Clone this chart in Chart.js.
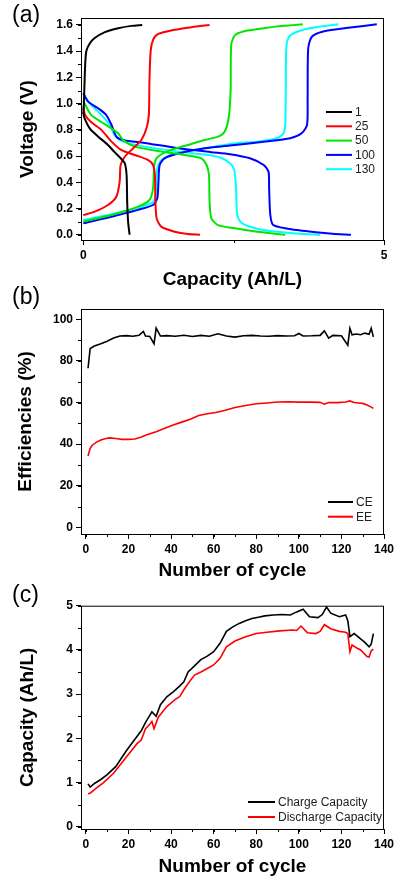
<!DOCTYPE html>
<html>
<head>
<meta charset="utf-8">
<script src="https://cdn.jsdelivr.net/npm/chart.js@4.4.0/dist/chart.umd.min.js"></script>
<style>
  body { margin: 0; background: #fff; width: 395px; height: 881px; overflow: hidden; }
  .panel { position: absolute; left: 0; }
  canvas { display: block; }
</style>
</head>
<body>
<div class="panel" style="top:0"><canvas id="chartA" width="395" height="300"></canvas></div>
<div class="panel" style="top:280px"><canvas id="chartB" width="395" height="310"></canvas></div>
<div class="panel" style="top:575px"><canvas id="chartC" width="395" height="306"></canvas></div>
<script>
// (a) voltage profiles, capacity (Ah/L) vs voltage (V)
const c1ChargeCap = [0.00, 0.01, 0.02, 0.03, 0.05, 0.11, 0.19, 0.36, 0.58, 0.80, 0.98];
const c1ChargeV = [0.92, 1.00, 1.15, 1.28, 1.40, 1.46, 1.50, 1.545, 1.575, 1.593, 1.60];
const c1DisCap = [0.00, 0.02, 0.11, 0.245, 0.41, 0.52, 0.63, 0.69, 0.72, 0.73, 0.745, 0.77];
const c1DisV = [0.93, 0.89, 0.81, 0.75, 0.685, 0.63, 0.58, 0.545, 0.456, 0.25, 0.10, 0.0];

const c25ChargeCap = [0.00, 0.19, 0.41, 0.55, 0.605, 0.62, 0.69, 0.83, 0.965, 1.05, 1.09, 1.10, 1.12, 1.16, 1.24, 1.52, 1.80, 2.10];
const c25ChargeV = [0.15, 0.176, 0.227, 0.29, 0.405, 0.53, 0.595, 0.66, 0.723, 0.81, 0.914, 1.17, 1.40, 1.486, 1.53, 1.563, 1.583, 1.60];
const c25DisCap = [0.00, 0.03, 0.13, 0.30, 0.47, 0.63, 0.855, 1.08, 1.16, 1.19, 1.20, 1.22, 1.30, 1.52, 1.74, 1.94];
const c25DisV = [0.97, 0.914, 0.86, 0.80, 0.71, 0.647, 0.608, 0.57, 0.532, 0.456, 0.25, 0.125, 0.06, 0.023, 0.005, 0.0];

const c50ChargeCap = [0.00, 0.47, 0.91, 1.10, 1.16, 1.18, 1.24, 1.46, 1.74, 2.02, 2.24, 2.35, 2.42, 2.45, 2.46, 2.52, 2.66, 3.00, 3.33, 3.65];
const c50ChargeV = [0.10, 0.15, 0.214, 0.265, 0.354, 0.53, 0.595, 0.647, 0.685, 0.723, 0.748, 0.786, 0.90, 1.10, 1.45, 1.52, 1.55, 1.575, 1.593, 1.605];
const c50DisCap = [0.00, 0.13, 0.30, 0.47, 0.58, 0.66, 0.855, 1.30, 1.69, 1.96, 2.05, 2.09, 2.10, 2.13, 2.24, 2.52, 2.89, 3.36];
const c50DisV = [1.02, 0.914, 0.86, 0.81, 0.774, 0.723, 0.672, 0.634, 0.608, 0.583, 0.532, 0.456, 0.25, 0.125, 0.074, 0.049, 0.023, 0.0];

const c100ChargeCap = [0.00, 0.47, 0.91, 1.16, 1.23, 1.25, 1.27, 1.35, 1.58, 2.02, 2.44, 3.00, 3.44, 3.63, 3.72, 3.73, 3.74, 3.80, 3.99, 4.44, 4.88];
const c100ChargeV = [0.087, 0.137, 0.19, 0.227, 0.278, 0.405, 0.532, 0.583, 0.62, 0.66, 0.68, 0.71, 0.736, 0.774, 0.837, 1.04, 1.42, 1.51, 1.55, 1.58, 1.605];
const c100DisCap = [0.00, 0.08, 0.245, 0.38, 0.47, 0.55, 0.66, 1.02, 1.58, 2.13, 2.44, 2.77, 3.00, 3.08, 3.09, 3.11, 3.16, 3.55, 4.10, 4.45];
const c100DisV = [1.08, 1.015, 0.965, 0.914, 0.837, 0.748, 0.723, 0.70, 0.66, 0.63, 0.614, 0.583, 0.532, 0.48, 0.354, 0.15, 0.074, 0.036, 0.01, 0.0];

const c130ChargeCap = [0.00, 0.47, 0.91, 1.16, 1.21, 1.23, 1.30, 1.52, 2.02, 2.57, 2.89, 3.22, 3.33, 3.36, 3.37, 3.38, 3.44, 3.66, 3.94, 4.24];
const c130ChargeV = [0.112, 0.156, 0.206, 0.25, 0.33, 0.507, 0.57, 0.62, 0.66, 0.70, 0.71, 0.736, 0.774, 0.86, 1.295, 1.45, 1.52, 1.563, 1.588, 1.605];
const c130DisCap = [0.00, 0.13, 0.30, 0.44, 0.52, 0.66, 1.02, 1.58, 2.13, 2.30, 2.44, 2.51, 2.54, 2.56, 2.64, 3.00, 3.55, 3.94];
const c130DisV = [1.07, 0.99, 0.914, 0.837, 0.76, 0.71, 0.672, 0.634, 0.605, 0.585, 0.545, 0.494, 0.354, 0.15, 0.087, 0.036, 0.01, 0.0];

const cycleLabels = ['1', '25', '50', '100', '130'];
const capTicksA = [0, 5];
const voltTicks = [0, 0.2, 0.4, 0.6, 0.8, 1.0, 1.2, 1.4, 1.6];

// (b) efficiencies (%) vs cycle
const ceCycle = [1, 2, 4, 7, 10, 13, 16, 19, 22, 25, 27, 28, 30, 32, 33, 35, 38, 42, 46, 50, 54, 58, 62, 66, 70, 74, 78, 82, 86, 90, 94, 98, 100, 102, 106, 110, 112, 114, 116, 120, 123, 124, 125, 127, 129, 131, 133, 134, 135];
const ceValue = [76.5, 86.0, 87.2, 88.3, 89.5, 91.0, 92.0, 92.2, 91.9, 92.4, 94.2, 92.0, 91.8, 88.3, 95.8, 92.0, 92.2, 91.9, 92.4, 91.8, 92.3, 91.9, 93.1, 92.0, 91.5, 92.1, 92.3, 92.0, 91.9, 92.2, 92.0, 92.1, 93.2, 92.0, 92.1, 92.3, 94.5, 91.0, 92.3, 92.1, 87.6, 95.7, 92.6, 93.0, 92.6, 93.4, 92.8, 95.7, 91.6];
const eeCycle = [1, 2, 3, 5, 7, 9, 11, 14, 17, 20, 23, 26, 29, 33, 37, 41, 45, 49, 53, 57, 61, 65, 70, 75, 80, 85, 90, 95, 100, 105, 110, 112, 114, 118, 122, 124, 126, 128, 130, 132, 134, 135];
const eeValue = [34.3, 38.0, 39.5, 41.0, 42.0, 42.6, 43.0, 42.7, 42.3, 42.3, 42.5, 43.4, 44.6, 46.0, 47.6, 49.2, 50.6, 52.0, 53.8, 54.6, 55.2, 56.2, 57.6, 58.6, 59.4, 59.8, 60.3, 60.4, 60.2, 60.2, 60.1, 59.2, 60.0, 60.0, 60.3, 60.8, 60.0, 59.8, 59.6, 58.8, 57.8, 57.2];
const effTicks = [0, 20, 40, 60, 80, 100];

// (c) capacity (Ah/L) vs cycle
const chgCycle = [1, 2, 4, 7, 10, 14, 19, 23, 26, 28, 30, 31, 33, 35, 38, 41, 44, 46, 48, 51, 54, 57, 60, 63, 66, 69, 72, 75, 78, 81, 84, 88, 92, 96, 99, 102, 105, 109, 111, 113, 115, 119, 122, 123, 124, 126, 129, 131, 133, 134, 135];
const chgValue = [0.97, 0.90, 0.98, 1.07, 1.18, 1.36, 1.72, 1.98, 2.17, 2.36, 2.52, 2.60, 2.50, 2.76, 2.94, 3.05, 3.18, 3.28, 3.50, 3.64, 3.78, 3.86, 3.96, 4.15, 4.42, 4.52, 4.60, 4.66, 4.71, 4.74, 4.77, 4.79, 4.80, 4.79, 4.86, 4.92, 4.75, 4.73, 4.80, 4.97, 4.83, 4.75, 4.79, 4.66, 4.30, 4.37, 4.25, 4.17, 4.07, 4.13, 4.37];
const disCycle = [1, 2, 5, 8, 13, 19, 24, 26, 28, 30, 31, 32, 34, 38, 42, 44, 46, 48, 51, 54, 57, 60, 63, 66, 70, 75, 80, 85, 91, 97, 99, 101, 104, 108, 110, 112, 115, 119, 122, 123, 124, 125, 127, 129, 132, 133, 134, 135];
const disValue = [0.75, 0.76, 0.88, 0.99, 1.21, 1.58, 1.88, 1.96, 2.22, 2.32, 2.38, 2.22, 2.48, 2.72, 2.88, 2.94, 3.10, 3.24, 3.43, 3.50, 3.58, 3.66, 3.81, 4.07, 4.20, 4.30, 4.37, 4.40, 4.43, 4.45, 4.44, 4.54, 4.39, 4.37, 4.42, 4.57, 4.48, 4.42, 4.40, 4.37, 3.96, 4.11, 4.05, 4.00, 3.85, 3.84, 3.98, 4.02];
const capTicksC = [0, 1, 2, 3, 4, 5];
const cycleTicks = [0, 20, 40, 60, 80, 100, 120, 140];

Chart.defaults.font.family = '"Liberation Sans", Arial, Helvetica, sans-serif';
Chart.defaults.color = '#000';

function pts(xs, ys) {
    return xs.map((x, i) => ({ x: x, y: ys[i] }));
}

function line(xs, ys, color, width, tension) {
    return {
        data: pts(xs, ys),
        showLine: true,
        borderColor: color,
        borderWidth: width,
        pointRadius: 0,
        tension: tension,
        fill: false
    };
}

function axis(o) {
    return {
        type: 'linear',
        min: o.min,
        max: o.max,
        border: { display: false },
        grid: { display: true, drawOnChartArea: false, drawTicks: true, tickLength: 5, tickColor: '#000', tickWidth: 1 },
        ticks: {
            color: '#000',
            font: { size: 12, weight: 'bold' },
            padding: 3,
            autoSkip: false,
            maxRotation: 0,
            callback: o.format || (v => String(v))
        },
        title: { display: true, text: o.title, color: '#000', font: { size: 19, weight: 'bold' }, padding: o.titlePad },
        afterBuildTicks: s => { s.ticks = o.ticks.map(v => ({ value: v })); },
        afterFit: s => {
            if (s.isHorizontal()) s.height = o.size; else s.width = o.size;
            s.paddingLeft = 0; s.paddingRight = 0; s.paddingTop = 0; s.paddingBottom = 0;
        }
    };
}

// frame, minor ticks, in-plot legend and panel letter
const decor = {
    id: 'decor',
    afterDraw(chart, args, o) {
        const ctx = chart.ctx;
        const a = chart.chartArea;
        ctx.save();
        ctx.strokeStyle = '#000';
        ctx.lineWidth = 1;
        ctx.strokeRect(a.left + 0.5, a.top + 0.5, a.right - a.left - 1, a.bottom - a.top);

        const xs = chart.scales.x, ys = chart.scales.y;
        ctx.beginPath();
        for (let v = Math.ceil(xs.min / o.minorX) * o.minorX; v <= xs.max + 1e-9; v += o.minorX) {
            const px = Math.round(xs.getPixelForValue(v)) + 0.5;
            ctx.moveTo(px, a.bottom);
            ctx.lineTo(px, a.bottom + 3);
        }
        for (let v = Math.ceil(ys.min / o.minorY) * o.minorY; v <= ys.max + 1e-9; v += o.minorY) {
            const py = Math.round(ys.getPixelForValue(v)) + 0.5;
            ctx.moveTo(a.left - 3, py);
            ctx.lineTo(a.left, py);
        }
        ctx.stroke();

        ctx.font = '12px "Liberation Sans", Arial, sans-serif';
        ctx.textBaseline = 'middle';
        ctx.textAlign = 'left';
        o.legend.items.forEach((it, i) => {
            const y = o.legend.y + i * o.legend.dy;
            ctx.strokeStyle = it.color;
            ctx.lineWidth = 2;
            ctx.beginPath();
            ctx.moveTo(o.legend.x, y);
            ctx.lineTo(o.legend.x + o.legend.len, y);
            ctx.stroke();
            ctx.fillStyle = '#222';
            ctx.fillText(it.text, o.legend.x + o.legend.len + 3, y + 0.5);
        });

        ctx.fillStyle = '#000';
        ctx.font = '23px "Liberation Sans", Arial, sans-serif';
        ctx.fillText(o.label, 12, o.labelY);
        ctx.restore();
    }
};

const cycleColors = ['#000000', '#ff0000', '#00e600', '#0000ff', '#00ffff'];

new Chart(document.getElementById('chartA'), {
    type: 'scatter',
    data: {
        datasets: [
            line(c1ChargeCap, c1ChargeV, cycleColors[0], 2, 0.25),
            line(c1DisCap, c1DisV, cycleColors[0], 2, 0.25),
            line(c25ChargeCap, c25ChargeV, cycleColors[1], 2, 0.25),
            line(c25DisCap, c25DisV, cycleColors[1], 2, 0.25),
            line(c50ChargeCap, c50ChargeV, cycleColors[2], 2, 0.25),
            line(c50DisCap, c50DisV, cycleColors[2], 2, 0.25),
            line(c100ChargeCap, c100ChargeV, cycleColors[3], 2, 0.25),
            line(c100DisCap, c100DisV, cycleColors[3], 2, 0.25),
            line(c130ChargeCap, c130ChargeV, cycleColors[4], 2, 0.25),
            line(c130DisCap, c130DisV, cycleColors[4], 2, 0.25)
        ]
    },
    options: {
        responsive: false,
        animation: false,
        layout: { padding: { top: 18, right: 11, left: 0, bottom: 0 } },
        scales: {
            x: axis({ min: -0.038, max: 5, ticks: capTicksA, title: 'Capacity (Ah/L)', size: 60, titlePad: { bottom: 8.6 } }),
            y: axis({ min: -0.04, max: 1.653, ticks: voltTicks, title: 'Voltage (V)', size: 81, titlePad: { top: 16.6 }, format: v => v.toFixed(1) })
        },
        plugins: {
            legend: { display: false },
            tooltip: { enabled: false },
            decor: {
                minorX: 2.5, minorY: 0.1, label: '(a)', labelY: 16,
                legend: { x: 326, y: 112, dy: 14.3, len: 26, items: cycleLabels.map((t, i) => ({ text: t, color: cycleColors[i] })) }
            }
        }
    },
    plugins: [decor]
});

new Chart(document.getElementById('chartB'), {
    type: 'scatter',
    data: {
        datasets: [
            line(ceCycle, ceValue, '#000000', 1.6, 0),
            line(eeCycle, eeValue, '#ff0000', 1.6, 0)
        ]
    },
    options: {
        responsive: false,
        animation: false,
        layout: { padding: { top: 29, right: 11, left: 0, bottom: 0 } },
        scales: {
            x: axis({ min: -2.3, max: 140, ticks: cycleTicks, title: 'Number of cycle', size: 56, titlePad: { bottom: 7.6 } }),
            y: axis({ min: -3.2, max: 105, ticks: effTicks, title: 'Efficiencies (%)', size: 81, titlePad: { top: 14.6 } })
        },
        plugins: {
            legend: { display: false },
            tooltip: { enabled: false },
            decor: {
                minorX: 10, minorY: 10, label: '(b)', labelY: 18,
                legend: { x: 328, y: 222, dy: 14.7, len: 25, items: [{ text: 'CE', color: '#000000' }, { text: 'EE', color: '#ff0000' }] }
            }
        }
    },
    plugins: [decor]
});

new Chart(document.getElementById('chartC'), {
    type: 'scatter',
    data: {
        datasets: [
            line(chgCycle, chgValue, '#000000', 1.6, 0),
            line(disCycle, disValue, '#ff0000', 1.6, 0)
        ]
    },
    options: {
        responsive: false,
        animation: false,
        layout: { padding: { top: 30.7, right: 11, left: 0, bottom: 0 } },
        scales: {
            x: axis({ min: -2.3, max: 140, ticks: cycleTicks, title: 'Number of cycle', size: 52, titlePad: { bottom: 2.6 } }),
            y: axis({ min: -0.05, max: 5, ticks: capTicksC, title: 'Capacity (Ah/L)', size: 81, titlePad: { top: 16.6 } })
        },
        plugins: {
            legend: { display: false },
            tooltip: { enabled: false },
            decor: {
                minorX: 10, minorY: 0.5, label: '(c)', labelY: 21,
                legend: { x: 248, y: 227, dy: 15, len: 27, items: [{ text: 'Charge Capacity', color: '#000000' }, { text: 'Discharge Capacity', color: '#ff0000' }] }
            }
        }
    },
    plugins: [decor]
});
</script>
</body>
</html>
